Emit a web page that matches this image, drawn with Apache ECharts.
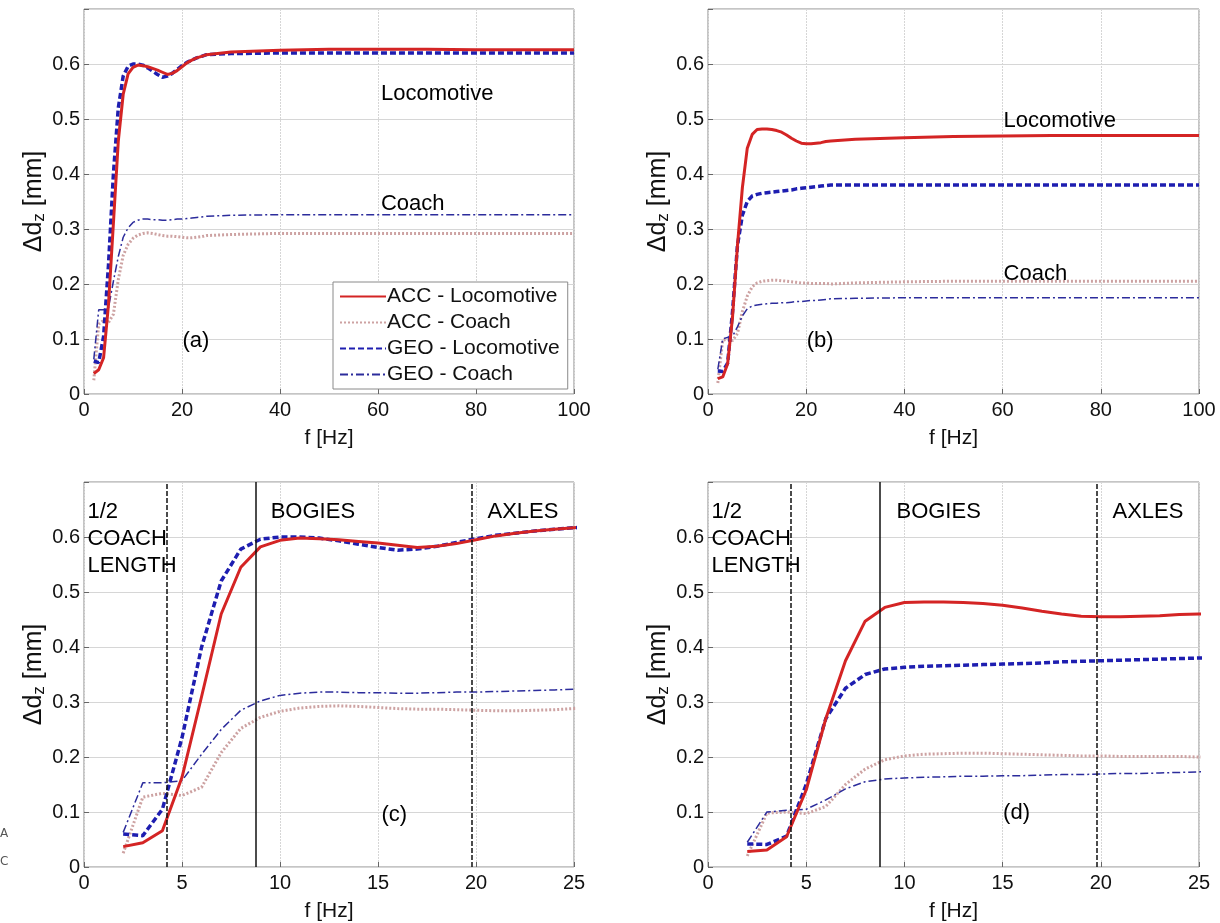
<!DOCTYPE html>
<html>
<head>
<meta charset="utf-8">
<script src="https://cdn.jsdelivr.net/npm/echarts@6/dist/echarts.min.js"></script>
<style>
html,body{margin:0;padding:0;background:#fff;}
#chart{width:1220px;height:923px;}
</style>
</head>
<body>
<div id="chart"></div>
<script>
// ---------- DATA ----------
const freq = [2,3,4,5,6,7,8,9,10,11,12,13,14,15,16,17,18,19,20,21,22,23,24,25,30,40,50,60,70,80,90,100];

// Panels (a) and (c)
const accLocoA  = [0.037,0.044,0.066,0.163,0.310,0.460,0.545,0.582,0.594,0.598,0.597,0.595,0.592,0.589,0.585,0.581,0.583,0.588,0.595,0.602,0.607,0.611,0.614,0.617,0.622,0.625,0.627,0.627,0.627,0.626,0.626,0.626];
const accCoachA = [0.025,0.127,0.134,0.130,0.145,0.208,0.252,0.272,0.283,0.289,0.292,0.293,0.292,0.290,0.288,0.287,0.287,0.286,0.285,0.284,0.284,0.285,0.286,0.288,0.290,0.292,0.292,0.292,0.292,0.292,0.292,0.292];
const geoLocoA  = [0.060,0.057,0.105,0.235,0.400,0.520,0.578,0.596,0.600,0.600,0.598,0.593,0.587,0.581,0.576,0.578,0.583,0.590,0.597,0.603,0.607,0.611,0.614,0.617,0.619,0.620,0.620,0.620,0.620,0.620,0.620,0.620];
const geoCoachA = [0.063,0.153,0.153,0.157,0.205,0.250,0.285,0.302,0.312,0.316,0.318,0.318,0.317,0.317,0.316,0.316,0.317,0.318,0.318,0.319,0.320,0.321,0.322,0.323,0.325,0.326,0.326,0.326,0.326,0.326,0.326,0.326];

// Panels (b) and (d)
const accLocoB  = [0.028,0.031,0.055,0.140,0.270,0.375,0.447,0.472,0.481,0.482,0.482,0.481,0.479,0.476,0.471,0.465,0.460,0.456,0.455,0.455,0.456,0.457,0.459,0.460,0.463,0.466,0.468,0.469,0.470,0.470,0.470,0.470];
const accCoachB = [0.020,0.098,0.100,0.097,0.110,0.150,0.178,0.195,0.202,0.205,0.206,0.207,0.207,0.206,0.205,0.204,0.203,0.202,0.202,0.201,0.201,0.201,0.201,0.200,0.202,0.204,0.205,0.205,0.205,0.205,0.205,0.205];
const geoLocoB  = [0.042,0.041,0.056,0.150,0.270,0.325,0.350,0.360,0.363,0.365,0.366,0.367,0.368,0.369,0.370,0.371,0.373,0.374,0.375,0.376,0.377,0.378,0.379,0.380,0.380,0.380,0.380,0.380,0.380,0.380,0.380,0.380];
const geoCoachB = [0.045,0.100,0.103,0.105,0.122,0.142,0.155,0.160,0.162,0.163,0.164,0.165,0.165,0.166,0.166,0.167,0.168,0.168,0.169,0.170,0.170,0.171,0.172,0.173,0.174,0.175,0.175,0.175,0.175,0.175,0.175,0.175];

const seriesNames = ['ACC - Locomotive','ACC - Coach','GEO - Locomotive','GEO - Coach'];
const xTicksWide = [0,20,40,60,80,100];
const xTicksZoom = [0,5,10,15,20,25];
const yTicks = [0,0.1,0.2,0.3,0.4,0.5,0.6];
const markFreqs = [4.2, 8.75, 19.8]; // 1/2 coach length, bogies, axles

// annotations: [panel, x, y, text]
const notes = [
  [0, 60.5, 0.546, 'Locomotive'], [0, 60.5, 0.345, 'Coach'], [0, 20.0, 0.096, '(a)'],
  [1, 60.1, 0.497, 'Locomotive'], [1, 60.1, 0.219, 'Coach'], [1, 20.0, 0.096, '(b)'],
  [2, 0.15, 0.597, '1/2\nCOACH\nLENGTH'], [2, 9.5, 0.646, 'BOGIES'], [2, 20.56, 0.646, 'AXLES'], [2, 15.15, 0.094, '(c)'],
  [3, 0.15, 0.597, '1/2\nCOACH\nLENGTH'], [3, 9.57, 0.646, 'BOGIES'], [3, 20.57, 0.646, 'AXLES'], [3, 15.0, 0.098, '(d)']
];

// ---------- CHART ----------
const FONT = 'Liberation Sans, Arial, sans-serif';
const TXT = '#111111';
const styles = [
  {color:'#d42424', width:3, type:'solid'},
  {color:'#cda2a2', width:3, type:[2,2]},
  {color:'#1e1eb0', width:3.5, type:[6,3]},
  {color:'#2c2c9c', width:1.5, type:[8,3,2,3]}
];

const grids = [
  {left:84, top:9, width:490, height:385},
  {left:708, top:9, width:491, height:385},
  {left:84, top:482, width:490, height:387},
  {left:708, top:482, width:491, height:388}
].map(g => Object.assign({show:true, borderColor:'#8a8a8a', borderWidth:1, backgroundColor:'#fff'}, g));

const xAxes = [0,1,2,3].map(i => {
  const wide = i < 2;
  const ticks = wide ? xTicksWide : xTicksZoom;
  return {
    type:'value', gridIndex:i, min:ticks[0], max:ticks[ticks.length-1], interval:ticks[1]-ticks[0],
    name:'f [Hz]', nameLocation:'middle', nameGap:34,
    nameTextStyle:{fontFamily:FONT, fontSize:21, color:TXT},
    axisLine:{show:false}, axisTick:{show:true, inside:true, length:5, lineStyle:{color:'#666'}},
    axisLabel:{fontFamily:FONT, fontSize:20, color:TXT, margin:6, showMinLabel:true, showMaxLabel:true},
    splitLine:{show:true, lineStyle:{color:'#d6d6d6', width:1, type:[2,1]}}
  };
});
const yAxes = [0,1,2,3].map(i => ({
  type:'value', gridIndex:i, min:0, max:0.7, interval:0.1,
  name:'{n|Δd}{s|z}{n| [mm]}', nameLocation:'middle', nameGap:34, nameRotate:90,
  nameTextStyle:{fontFamily:FONT, color:TXT, rich:{
    n:{fontFamily:FONT, fontSize:25, color:TXT},
    s:{fontFamily:FONT, fontSize:17, color:TXT, padding:[12,0,0,0]}
  }},
  axisLine:{show:false}, axisTick:{show:true, inside:true, length:5, lineStyle:{color:'#666'}},
  axisLabel:{fontFamily:FONT, fontSize:20, color:TXT, margin:4,
    formatter: v => (v > 0.65 ? '' : (v === 0 ? '0' : v.toFixed(1)))},
  splitLine:{show:true, lineStyle:{color:'#d6d6d6', width:1}}
}));

const series = [];
const panelData = [
  [accLocoA, accCoachA, geoLocoA, geoCoachA],
  [accLocoB, accCoachB, geoLocoB, geoCoachB],
  [accLocoA, accCoachA, geoLocoA, geoCoachA],
  [accLocoB, accCoachB, geoLocoB, geoCoachB]
];
// draw coach lines first, loco on top
const order = [1,3,0,2];
for (let p = 0; p < 4; p++) {
  order.forEach(k => {
    series.push({
      type:'line', name:seriesNames[k], xAxisIndex:p, yAxisIndex:p,
      data: freq.map((f, j) => [f, panelData[p][k][j]]),
      showSymbol:false, symbol:'none', smooth:false, clip:true, silent:true,
      lineStyle:Object.assign({}, styles[k]), itemStyle:{color:styles[k].color},
      z: k === 0 ? 4 : 3
    });
  });
  const pn = notes.filter(n => n[0] === p);
  const s = {
    type:'scatter', xAxisIndex:p, yAxisIndex:p, symbolSize:1, silent:true,
    itemStyle:{color:'rgba(255,255,255,0)'},
    label:{show:true, position:'right', distance:0, formatter:'{b}', fontFamily:FONT, fontSize:22, color:'#000', opacity:1, lineHeight:27},
    data: pn.map(n => ({name:n[3], value:[n[1], n[2]]})),
    z:5
  };
  if (p >= 2) {
    s.markLine = {
      silent:true, symbol:'none', label:{show:false},
      lineStyle:{color:'#111', width:1.5},
      data: markFreqs.map((f, i) => ({xAxis:f, lineStyle:{color:'#111', width:1.5, type: i === 1 ? 'solid' : [5,2]}}))
    };
  }
  series.push(s);
}

const option = {
  backgroundColor:'#fff',
  animation:false,
  grid:grids, xAxis:xAxes, yAxis:yAxes, series:series,
  legend:{
    data:seriesNames, orient:'vertical', left:333, top:282,
    backgroundColor:'#fff', borderColor:'#8a8a8a', borderWidth:1, padding:[4,8,4,6],
    itemWidth:46, itemHeight:14, itemGap:5, selectedMode:false,
    itemStyle:{opacity:0},
    textStyle:{fontFamily:FONT, fontSize:21, color:TXT, padding:[0,0,0,-4]}
  },
  graphic:[
    {type:'text', left:0, top:828, style:{text:'A', fontFamily:'DejaVu Sans', fontSize:12, fill:'#555'}},
    {type:'text', left:0, top:856, style:{text:'C', fontFamily:'DejaVu Sans', fontSize:12, fill:'#555'}}
  ]
};

const chart = echarts.init(document.getElementById('chart'), null, {renderer:'canvas'});
chart.setOption(option);
</script>
</body>
</html>
